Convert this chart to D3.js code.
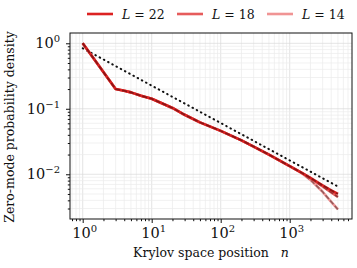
<!DOCTYPE html>
<html lang="en">
<head>
  <meta charset="UTF-8">
  <title>Zero-mode probability density</title>
  <script src="https://d3js.org/d3.v7.min.js"></script>
  <style>
    body { margin: 0; background: #fff; }
    text { font-family: "DejaVu Serif", "Liberation Serif", serif; fill: #111; }
    .grid line { stroke: #d9d9d9; stroke-width: 0.7; }
    .grid .minor { stroke: #ebebeb; }
  </style>
</head>
<body>
  <svg id="chart" width="357" height="268"></svg>

  <script>
    // Krylov positions n and zero-mode densities
    const positions = [1, 3, 4, 5, 7, 10, 20, 30, 50, 100, 200, 300, 500, 1000, 1500, 2000, 3000, 4000, 5000];
    const densL22 = [1.0, 0.20, 0.188, 0.178, 0.158, 0.142, 0.103, 0.081, 0.062, 0.046, 0.033, 0.0265, 0.020, 0.0133, 0.0105, 0.0088, 0.0068, 0.0057, 0.0050];
    const densL18 = [1.0, 0.20, 0.188, 0.178, 0.158, 0.142, 0.103, 0.081, 0.062, 0.046, 0.033, 0.0265, 0.020, 0.0133, 0.0105, 0.0087, 0.0065, 0.0053, 0.0045];
    const densL14 = [1.0, 0.20, 0.188, 0.178, 0.158, 0.142, 0.103, 0.081, 0.062, 0.046, 0.033, 0.0265, 0.020, 0.0133, 0.0104, 0.0082, 0.0054, 0.0038, 0.0029];
    // power-law guide (dotted)
    const guideN = [1, 5000];
    const guideV = [0.84, 0.0065];
    const seriesNames = ["22", "18", "14"];
    const seriesColors = ["#dc2222", "#e65c5c", "#f09494"];
    const xTicks = [1, 10, 100, 1000];
    const yTicks = [0.01, 0.1, 1];

    const series = [densL14, densL18, densL22]; // drawn light to dark
    const seriesCol = [seriesColors[2], seriesColors[1], seriesColors[0]];

    const margin = { left: 70, right: 352, top: 33, bottom: 219 };
    const svg = d3.select("#chart");

    const x = d3.scaleLog()
      .domain([Math.pow(10, -0.184), Math.pow(10, 3.903)])
      .range([margin.left, margin.right]);
    const y = d3.scaleLog()
      .domain([Math.pow(10, -2.683), Math.pow(10, 0.157)])
      .range([margin.bottom, margin.top]);

    // minor tick values inside the domain
    function minorVals(sc) {
      const [a, b] = sc.domain();
      const out = [];
      for (let e = Math.floor(Math.log10(a)); e <= Math.ceil(Math.log10(b)); e++) {
        for (let k = 1; k < 10; k++) {
          const v = k * Math.pow(10, e);
          if (v >= a && v <= b) out.push({ v: v, major: k === 1 });
        }
      }
      return out;
    }
    const xm = minorVals(x), ym = minorVals(y);

    // grid
    const grid = svg.append("g").attr("class", "grid");
    grid.selectAll(".gx").data(xm).join("line")
      .attr("class", d => d.major ? "gx" : "gx minor")
      .attr("x1", d => x(d.v)).attr("x2", d => x(d.v))
      .attr("y1", margin.top).attr("y2", margin.bottom);
    grid.selectAll(".gy").data(ym).join("line")
      .attr("class", d => d.major ? "gy" : "gy minor")
      .attr("y1", d => y(d.v)).attr("y2", d => y(d.v))
      .attr("x1", margin.left).attr("x2", margin.right);

    // lines
    const line = d3.line()
      .x(d => x(d[0]))
      .y(d => y(d[1]));

    svg.append("path")
      .datum(guideN.map((n, i) => [n, guideV[i]]))
      .attr("fill", "none")
      .attr("stroke", "#111")
      .attr("stroke-width", 2)
      .attr("stroke-dasharray", "0.6,4.2")
      .attr("stroke-linecap", "round")
      .attr("d", line);

    series.forEach((vals, i) => {
      const pts = positions.map((n, j) => [n, vals[j]]);
      svg.append("path")
        .datum(pts)
        .attr("fill", "none")
        .attr("stroke", seriesCol[i])
        .attr("stroke-width", 2.6)
        .attr("stroke-linejoin", "round")
        .attr("d", line);
      svg.append("path")
        .datum(pts)
        .attr("fill", "none")
        .attr("stroke", "#000")
        .attr("stroke-opacity", 0.38)
        .attr("stroke-width", 1.6)
        .attr("stroke-dasharray", "5,2")
        .attr("d", line);
    });

    // frame
    svg.append("rect")
      .attr("x", margin.left).attr("y", margin.top)
      .attr("width", margin.right - margin.left)
      .attr("height", margin.bottom - margin.top)
      .attr("fill", "none").attr("stroke", "#111").attr("stroke-width", 1);

    // axes ticks
    const xAxis = d3.axisBottom(x).tickValues(xm.map(d => d.v)).tickFormat("").tickSizeOuter(0);
    const gx = svg.append("g").attr("transform", `translate(0,${margin.bottom})`).call(xAxis);
    gx.select(".domain").remove();
    gx.selectAll(".tick line")
      .attr("stroke", "#111")
      .attr("y2", (d) => xTicks.includes(d) ? 4 : 2.2);

    const yAxis = d3.axisLeft(y).tickValues(ym.map(d => d.v)).tickFormat("").tickSizeOuter(0);
    const gy = svg.append("g").attr("transform", `translate(${margin.left},0)`).call(yAxis);
    gy.select(".domain").remove();
    gy.selectAll(".tick line")
      .attr("stroke", "#111")
      .attr("x2", (d) => yTicks.some(t => Math.abs(t - d) / t < 1e-6) ? -4 : -2.2);

    // tick labels 10^k
    function powLabel(sel, v) {
      const e = Math.round(Math.log10(v));
      sel.append("tspan").text("10");
      sel.append("tspan").attr("dy", -6).attr("font-size", 10).text(e < 0 ? "\u2212" + (-e) : e);
    }
    xTicks.forEach(v => {
      const t = svg.append("text")
        .attr("x", x(v) + 2).attr("y", 238)
        .attr("text-anchor", "middle")
        .attr("font-size", 14.5);
      powLabel(t, v);
    });
    yTicks.forEach(v => {
      const t = svg.append("text")
        .attr("x", 60).attr("y", y(v) + 5)
        .attr("text-anchor", "end")
        .attr("font-size", 14.5);
      powLabel(t, v);
    });

    // axis titles
    const xl = svg.append("text")
      .attr("x", 211).attr("y", 257)
      .attr("text-anchor", "middle")
      .attr("font-size", 12.5);
    xl.append("tspan").text("Krylov space position");
    xl.append("tspan").attr("dx", 12).attr("font-style", "italic").text("n");

    svg.append("text")
      .attr("transform", "translate(14,127) rotate(-90)")
      .attr("text-anchor", "middle")
      .attr("font-size", 12.5)
      .text("Zero-mode probability density");

    // legend
    const legX = [87, 177, 267];
    seriesNames.forEach((name, i) => {
      svg.append("line")
        .attr("x1", legX[i]).attr("x2", legX[i] + 26)
        .attr("y1", 14).attr("y2", 14)
        .attr("stroke", seriesColors[i]).attr("stroke-width", 2.6);
      const t = svg.append("text")
        .attr("x", legX[i] + 35).attr("y", 18.5)
        .attr("font-size", 12.5);
      t.append("tspan").attr("font-style", "italic").text("L");
      t.append("tspan").text(" = " + name);
    });
  </script>
</body>
</html>
